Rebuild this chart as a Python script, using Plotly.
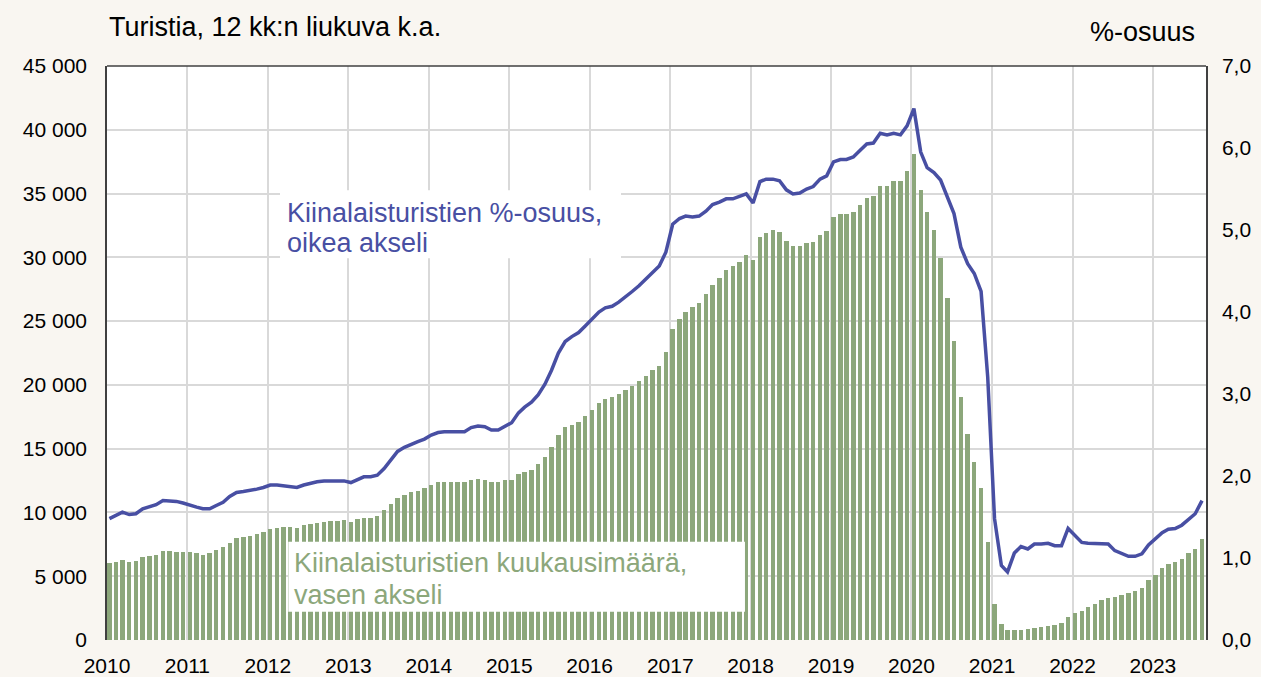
import pandas as pd
import plotly.graph_objects as go

# monthly data 2010-01 .. 2023-08
START_MONTH = '2010-01-01'

# Chinese tourists per month, 12-month moving average (left axis)
tourists = [
    6010, 6110, 6240, 6140, 6190, 6480, 6580, 6690, 6950, 6950, 6920, 6900,
    6870, 6790, 6690, 6790, 7050, 7260, 7630, 7970, 8070, 8180, 8280, 8460,
    8700, 8750, 8830, 8880, 8800, 8990, 9090, 9190, 9220, 9300, 9330, 9400,
    9270, 9460, 9590, 9590, 9720, 10190, 10680, 11150, 11360, 11570, 11700, 11890,
    12150, 12360, 12360, 12360, 12360, 12360, 12540, 12640, 12540, 12380, 12380, 12510,
    12540, 12980, 13140, 13320, 13790, 14320, 15120, 16040, 16670, 16850, 17110, 17550,
    18030, 18550, 18860, 19020, 19250, 19590, 19900, 20320, 20690, 21160, 21500, 22600,
    24400, 25130, 25730, 26070, 26430, 27090, 27820, 28390, 29000, 29310, 29650, 30170,
    29830, 31600, 31920, 32130, 31950, 31270, 30900, 30900, 31110, 31240, 31740, 32050,
    33130, 33360, 33410, 33540, 34090, 34660, 34820, 35580, 35580, 36000, 36000, 36780,
    38140, 35240, 33540, 32160, 29960, 26780, 23430, 19020, 16120, 13950, 11890, 7710,
    2820, 1230, 780, 780, 780, 840, 920, 990, 1070, 1150, 1310, 1830,
    2090, 2300, 2590, 2840, 3110, 3290, 3370, 3530, 3660, 3860, 4070, 4680,
    5120, 5620, 5980, 6110, 6350, 6790, 7110, 7920,
]

# share of Chinese tourists, % (right axis)
share = [
    1.48, 1.52, 1.56, 1.53, 1.54, 1.60, 1.62, 1.65, 1.70, 1.70, 1.69, 1.67,
    1.65, 1.62, 1.60, 1.60, 1.64, 1.68, 1.75, 1.80, 1.81, 1.82, 1.84, 1.86,
    1.89, 1.89, 1.88, 1.88, 1.86, 1.89, 1.91, 1.93, 1.94, 1.94, 1.93, 1.94,
    1.92, 1.96, 1.99, 1.99, 2.01, 2.09, 2.20, 2.30, 2.35, 2.39, 2.42, 2.45,
    2.50, 2.53, 2.54, 2.54, 2.54, 2.54, 2.59, 2.61, 2.60, 2.56, 2.56, 2.61,
    2.65, 2.77, 2.84, 2.90, 2.99, 3.12, 3.29, 3.50, 3.64, 3.70, 3.75, 3.83,
    3.91, 4.00, 4.05, 4.07, 4.12, 4.18, 4.25, 4.32, 4.40, 4.49, 4.56, 4.73,
    5.07, 5.14, 5.17, 5.16, 5.17, 5.23, 5.31, 5.34, 5.38, 5.38, 5.41, 5.44,
    5.33, 5.59, 5.62, 5.62, 5.60, 5.49, 5.44, 5.45, 5.50, 5.53, 5.62, 5.66,
    5.83, 5.86, 5.86, 5.89, 5.97, 6.05, 6.06, 6.18, 6.16, 6.18, 6.16, 6.27,
    6.48, 5.95, 5.76, 5.70, 5.61, 5.40, 5.20, 4.79, 4.59, 4.47, 4.25, 3.21,
    1.48, 0.91, 0.83, 1.06, 1.14, 1.11, 1.17, 1.17, 1.18, 1.15, 1.15, 1.36,
    1.28, 1.19, 1.18, 1.18, 1.18, 1.17, 1.09, 1.05, 1.02, 1.02, 1.05, 1.16,
    1.24, 1.31, 1.35, 1.36, 1.40, 1.47, 1.54, 1.70,
]

months = pd.date_range(START_MONTH, periods=len(tourists), freq='MS') + pd.Timedelta(days=11)

GREEN = '#8CA77B'
BLUE = '#484FA3'
FONT = 'Liberation Sans, Arial, sans-serif'

fig = go.Figure()
fig.add_trace(go.Bar(
    x=months, y=tourists,
    width=20 * 86400000,
    marker=dict(color=GREEN, line=dict(width=0)),
    name='Kiinalaisturistien kuukausimäärä',
))
fig.add_trace(go.Scatter(
    x=months, y=share,
    yaxis='y2',
    mode='lines',
    line=dict(color=BLUE, width=3.5),
    name='Kiinalaisturistien %-osuus',
))

fig.update_layout(
    width=1261, height=677,
    margin=dict(l=107, r=55, t=66, b=37),
    paper_bgcolor='#F9F6F1',
    plot_bgcolor='white',
    separators=', ',
    showlegend=False,
    font=dict(family=FONT, size=21, color='black'),
    bargap=0,
    xaxis=dict(
        type='date',
        range=['2010-01-01', '2023-08-30'],
        dtick='M12', tick0='2010-01-01', tickformat='%Y',
        showgrid=True, gridcolor='#D9D9D9', gridwidth=1.5,
        showline=False, zeroline=False, ticks='',
        ticklabelstandoff=11, automargin=False,
    ),
    yaxis=dict(
        range=[0, 45000], dtick=5000, tickformat=',d',
        showgrid=True, gridcolor='#D9D9D9', gridwidth=1.5,
        showline=True, linecolor='#404040', linewidth=1.5,
        zeroline=False, ticks='', ticklabelstandoff=14, automargin=False,
    ),
    yaxis2=dict(
        overlaying='y', side='right',
        range=[0, 7], dtick=1, tickformat='.1f',
        showgrid=False, showline=True, linecolor='#404040', linewidth=1.5,
        zeroline=False, ticks='', ticklabelstandoff=10, automargin=False,
    ),
    shapes=[
        # top border of the plot area
        dict(type='line', xref='paper', yref='paper', x0=0, x1=1, y0=1, y1=1,
             line=dict(color='#404040', width=1.5), layer='above'),
        # white label boxes
        dict(type='rect', xref='paper', yref='paper', x0=0.1574, x1=0.4677,
             y0=0.6652, y1=0.7836, fillcolor='white', line=dict(width=0), layer='above'),
        dict(type='rect', xref='paper', yref='paper', x0=0.165, x1=0.5805,
             y0=0.0493, y1=0.1712, fillcolor='white', line=dict(width=0), layer='above'),
    ],
    annotations=[
        dict(text='Turistia, 12 kk:n liukuva k.a.', xref='paper', yref='paper',
             x=0, y=1.0674, xanchor='left', yanchor='middle', showarrow=False,
             font=dict(size=27)),
        dict(text='%-osuus', xref='paper', yref='paper',
             x=0.9918, y=1.0587, xanchor='right', yanchor='middle', showarrow=False,
             font=dict(size=27)),
        dict(text='Kiinalaisturistien %-osuus,', xref='paper', yref='paper',
             x=0.162, y=0.7435, xanchor='left', yanchor='middle', showarrow=False,
             font=dict(size=27, color=BLUE)),
        dict(text='oikea akseli', xref='paper', yref='paper',
             x=0.162, y=0.6913, xanchor='left', yanchor='middle', showarrow=False,
             font=dict(size=27, color=BLUE)),
        dict(text='Kiinalaisturistien kuukausimäärä,', xref='paper', yref='paper',
             x=0.168, y=0.134, xanchor='left', yanchor='middle', showarrow=False,
             font=dict(size=27, color=GREEN)),
        dict(text='vasen akseli', xref='paper', yref='paper',
             x=0.168, y=0.0784, xanchor='left', yanchor='middle', showarrow=False,
             font=dict(size=27, color=GREEN)),
    ],
)

# the page's default body margin would shift the figure by 8px
fig.write_html("out.html", config={'displayModeBar': False},
               post_script="document.body.style.margin='0';")
